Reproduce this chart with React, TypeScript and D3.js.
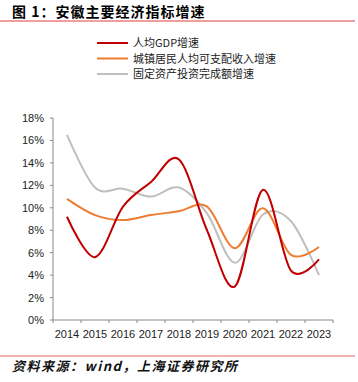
import React from 'react';
import * as d3 from 'd3';

const years = ['2014', '2015', '2016', '2017', '2018', '2019', '2020', '2021', '2022', '2023'];
const gdpGrowth = [9.2, 5.6, 10.1, 12.3, 14.3, 8.0, 3.0, 11.6, 4.4, 5.4];
const incomeGrowth = [10.8, 9.35, 8.9, 9.35, 9.7, 10.1, 6.4, 9.95, 5.8, 6.5];
const investGrowth = [16.5, 11.8, 11.7, 11.0, 11.8, 9.5, 5.1, 9.4, 8.8, 4.0];
const yTicks = [0, 2, 4, 6, 8, 10, 12, 14, 16, 18];

const seriesNames = ['人均GDP增速', '城镇居民人均可支配收入增速', '固定资产投资完成额增速'];
const seriesColors = ['#c00000', '#ed7d31', '#bfbfbf'];

const W = 358;
const H = 382;
const plotLeft = 53;
const plotRight = 333;
const plotTop = 118;
const plotBottom = 320;

const cjk = '"Noto Sans CJK SC", "Liberation Sans", sans-serif';
const latin = '"Liberation Sans", Arial, sans-serif';

export default function App() {
  const x = d3.scaleBand<string>().domain(years).range([plotLeft, plotRight]);
  const y = d3.scaleLinear().domain([0, 18]).range([plotBottom, plotTop]);
  const cx = (yr: string) => (x(yr) as number) + x.bandwidth() / 2;

  const line = d3
    .line<number>()
    .x((_, i) => cx(years[i]))
    .y((d) => y(d))
    .curve(d3.curveCardinal.tension(0));

  const allSeries = [gdpGrowth, incomeGrowth, investGrowth];
  // band edges for x ticks
  const xEdges = years.map((yr) => x(yr) as number).concat([plotRight]);

  return (
    <svg width={W} height={H} style={{ position: 'absolute', left: 0, top: 0, background: '#fff' }}>
      {/* title */}
      <text x={12} y={17} fontFamily={cjk} fontSize={14} fontWeight={700} letterSpacing={1} fill="#000">
        图 1：安徽主要经济指标增速
      </text>
      <line x1={0} x2={355} y1={21} y2={21} stroke="#e03c3c" strokeWidth={1} />

      {/* legend */}
      {seriesNames.map((name, i) => (
        <g key={name} transform={`translate(97, ${43 + i * 15.5})`}>
          <line x1={0} x2={31} y1={0} y2={0} stroke={seriesColors[i]} strokeWidth={2} />
          <text x={36} y={4} fontFamily={cjk} fontSize={11} fill="#222">
            {name}
          </text>
        </g>
      ))}

      {/* y axis */}
      <line x1={plotLeft} x2={plotLeft} y1={plotTop} y2={plotBottom} stroke="#888" strokeWidth={1} />
      {yTicks.map((t) => (
        <g key={t}>
          <line x1={plotLeft - 3} x2={plotLeft} y1={y(t)} y2={y(t)} stroke="#888" />
          <text x={44} y={y(t) + 4} textAnchor="end" fontFamily={latin} fontSize={11} fill="#222">
            {t}%
          </text>
        </g>
      ))}

      {/* x axis */}
      <line x1={plotLeft} x2={plotRight} y1={plotBottom} y2={plotBottom} stroke="#888" strokeWidth={1} />
      {xEdges.map((e, i) => (
        <line key={i} x1={e} x2={e} y1={plotBottom} y2={plotBottom + 3} stroke="#888" />
      ))}
      {years.map((yr) => (
        <text key={yr} x={cx(yr)} y={338} textAnchor="middle" fontFamily={latin} fontSize={11} fill="#222">
          {yr}
        </text>
      ))}

      {/* series */}
      {allSeries
        .map((s, i) => ({ s, i }))
        .reverse()
        .map(({ s, i }) => (
          <path key={i} d={line(s) || ''} fill="none" stroke={seriesColors[i]} strokeWidth={2} />
        ))}

      {/* source */}
      <line x1={0} x2={355} y1={356} y2={356} stroke="#f09a9a" strokeWidth={1.5} />
      <text x={12} y={371} fontFamily={cjk} fontSize={13} fontWeight={700} fontStyle="italic" letterSpacing={1.5} fill="#111">
        资料来源：wind，上海证券研究所
      </text>
    </svg>
  );
}
